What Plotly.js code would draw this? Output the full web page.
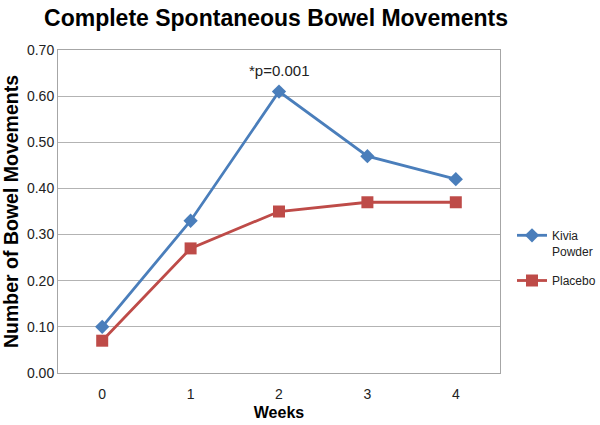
<!DOCTYPE html>
<html><head><meta charset="utf-8">
<script src="https://cdn.plot.ly/plotly-3.0.1.min.js"></script>
<style>html,body{margin:0;padding:0;background:#fff}</style>
</head><body><div id="chart" style="width:600px;height:425px"></div>
<script>
const weeks = ['0','1','2','3','4'];
const kivia = [0.10, 0.33, 0.61, 0.47, 0.42];
const placebo = [0.07, 0.27, 0.35, 0.37, 0.37];
const yTicks = [0,0.1,0.2,0.3,0.4,0.5,0.6,0.7];
const yTickLabels = ['0.00','0.10','0.20','0.30','0.40','0.50','0.60','0.70'];
const noteText = '*p=0.001';
const noteWeek = '2';
const noteY = 0.655;

const sans = 'Liberation Sans, Arial, sans-serif';
const data = [
  {x: weeks, y: kivia, name: 'Kivia<br>Powder', legendgroup: 'a', type: 'scatter', mode: 'lines+markers',
   line: {color: '#4a7ebb', width: 2.8}, marker: {symbol: 'diamond', size: 11, color: '#4a7ebb'}},
  {x: weeks, y: placebo, name: 'Placebo', legendgroup: 'b', type: 'scatter', mode: 'lines+markers',
   line: {color: '#be4b48', width: 2.8}, marker: {symbol: 'square', size: 12, color: '#be4b48'}}
];
const layout = {
  width: 600, height: 425,
  margin: {l: 58, r: 100, t: 50, b: 52, autoexpand: false},
  paper_bgcolor: '#fff', plot_bgcolor: '#fff',
  title: {text: '<b>Complete Spontaneous Bowel Movements</b>', x: 0.46, xanchor: 'center', xref: 'container', y: 0.958, yanchor: 'middle',
          font: {family: sans, size: 23, color: '#000'}},
  xaxis: {type: 'category', range: [-0.5, 4.5], showgrid: false, zeroline: false,
          showline: true, linecolor: '#a6a6a6', mirror: true, linewidth: 1,
          ticks: '', ticklabelstandoff: 8, tickfont: {family: sans, size: 14, color: '#222'},
          title: {text: '<b>Weeks</b>', font: {family: sans, size: 16, color: '#000'}, standoff: 6}},
  yaxis: {range: [0, 0.7], tickvals: yTicks, ticktext: yTickLabels, showgrid: true, gridcolor: '#b3b3b3',
          zeroline: false, showline: true, linecolor: '#a6a6a6', mirror: true, ticks: '',
          tickfont: {family: sans, size: 14, color: '#222'},
          title: {text: '<b>Number of Bowel Movements</b>', font: {family: sans, size: 19.5, color: '#000'}, standoff: 4}},
  legend: {xref: 'container', yref: 'container', x: 512/600, y: 1 - 221/425, xanchor: 'left', yanchor: 'top',
           valign: 'top', tracegroupgap: 11, font: {family: sans, size: 12, color: '#222'}, bgcolor: 'rgba(0,0,0,0)'},
  annotations: [{x: noteWeek, y: noteY, text: noteText, showarrow: false,
                 font: {family: sans, size: 15, color: '#222'}}]
};
Plotly.newPlot('chart', data, layout, {displayModeBar: false, staticPlot: true});
</script></body></html>
